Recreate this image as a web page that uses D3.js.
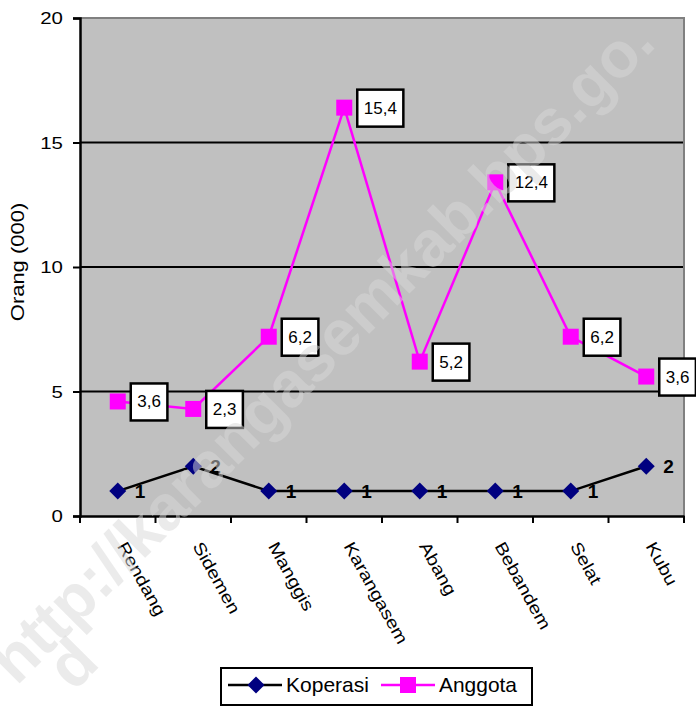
<!DOCTYPE html>
<html><head><meta charset="utf-8">
<script src="https://cdn.jsdelivr.net/npm/d3@7"></script>
<style>body{margin:0;background:#fff;}svg{display:block;font-family:"Liberation Sans",Arial,sans-serif;}</style>
</head><body>
<svg id="c" width="696" height="707"></svg>
<script>
const categories = ["Rendang","Sidemen","Manggis","Karangasem","Abang","Bebandem","Selat","Kubu"];
const koperasi = [1,2,1,1,1,1,1,2];
const anggota = [3.6,2.3,6.2,15.4,5.2,12.4,6.2,3.6];
const yTicks = [0,5,10,15,20];
const seriesNames = ["Koperasi","Anggota"];
const yTitle = "Orang (000)";
const watermark = "http://karangasemkab.bps.go.";
const watermark2 = "d";

const svg = d3.select("#c");
const L=80, R=684, T=18, B=516;
const x = d3.scaleBand().domain(categories).range([L,R]).padding(0);
const y = d3.scaleLinear().domain([0,20]).range([B,T]);
const cx = d => x(d)+x.bandwidth()/2;

function stretch(sel, f){
  sel.each(function(){
    const w=this.getComputedTextLength();
    d3.select(this).attr("textLength",w*f).attr("lengthAdjust","spacingAndGlyphs");
  });
}

// plot background
svg.append("rect").attr("x",L).attr("y",T).attr("width",R-L).attr("height",B-T).attr("fill","#c0c0c0");
// grid
svg.append("g").selectAll("line").data(yTicks.filter(v=>v>0&&v<20)).join("line")
  .attr("x1",L).attr("x2",R).attr("y1",d=>y(d)).attr("y2",d=>y(d))
  .attr("stroke","#000").attr("stroke-width",2);
// top/right border
svg.append("path").attr("d",`M${L},${T}H${R}V${B}`).attr("fill","none").attr("stroke","#808080").attr("stroke-width",2);

// y axis
const ya = svg.append("g").attr("transform",`translate(${L},0)`)
  .call(d3.axisLeft(y).tickValues(yTicks).tickSize(7).tickFormat(""));
ya.select(".domain").attr("stroke","#000").attr("stroke-width",2.5);
ya.selectAll(".tick line").attr("stroke","#000").attr("stroke-width",2);
svg.append("g").selectAll("text").data(yTicks).join("text")
  .attr("x",63).attr("y",d=>y(d)+6).attr("text-anchor","end").attr("font-size",17)
  .text(d=>d).call(stretch,1.2);

// x axis
const xa = svg.append("g").attr("transform",`translate(0,${B})`)
  .call(d3.axisBottom(x).tickSize(0).tickFormat(""));
xa.select(".domain").attr("stroke","#000").attr("stroke-width",2.5);
const bounds = categories.map(c=>x(c)).concat([R]);
svg.append("g").selectAll("line").data(bounds).join("line")
  .attr("x1",d=>d).attr("x2",d=>d).attr("y1",B).attr("y2",B+7)
  .attr("stroke","#000").attr("stroke-width",2);
svg.append("g").selectAll("text").data(categories).join("text")
  .attr("transform",d=>`translate(${cx(d)-1},${B+30}) rotate(61)`)
  .attr("font-size",17).attr("fill","#000").text(d=>d).call(stretch,1.18);

// y title
svg.append("text").attr("transform",`translate(24,262) rotate(-90)`)
  .attr("text-anchor","middle").attr("font-size",18).text(yTitle).call(stretch,1.22);

// stacked values (Anggota is drawn stacked on Koperasi)
const stacked = anggota.map((v,i)=>v+koperasi[i]);

const line = d3.line().x((d,i)=>cx(categories[i])).y(d=>y(d));
svg.append("path").datum(koperasi).attr("d",line).attr("fill","none").attr("stroke","#000").attr("stroke-width",2.5);
svg.append("path").datum(stacked).attr("d",line).attr("fill","none").attr("stroke","#ff00ff").attr("stroke-width",2.5);

const diamond = "M0,-8.5L8.5,0L0,8.5L-8.5,0Z";
svg.append("g").selectAll("path").data(koperasi).join("path")
  .attr("d",diamond).attr("transform",(d,i)=>`translate(${cx(categories[i])},${y(d)})`).attr("fill","#000080");
svg.append("g").selectAll("rect").data(stacked).join("rect")
  .attr("x",(d,i)=>cx(categories[i])-8).attr("y",d=>y(d)-8).attr("width",16).attr("height",16).attr("fill","#ff00ff");

// Koperasi labels
svg.append("g").selectAll("text").data(koperasi).join("text")
  .attr("x",(d,i)=>cx(categories[i])+17).attr("y",(d,i)=>y(d)+7)
  .attr("font-size",19).attr("font-weight","bold").text(d=>d);

// Anggota labels
const lg = svg.append("g").selectAll("g").data(anggota).join("g")
  .attr("transform",(d,i)=>`translate(${cx(categories[i])+13},${y(stacked[i])})`);
lg.each(function(d){
  const g=d3.select(this);
  const t=g.append("text").attr("x",0).attr("y",6).attr("font-size",17).text(String(d).replace(".",","));
  const w=t.node().getComputedTextLength();
  t.attr("x",6.5);
  g.insert("rect","text").attr("x",0).attr("y",-18).attr("width",w+13).attr("height",37)
    .attr("fill","#fff").attr("stroke","#000").attr("stroke-width",2.5);
});

// legend
svg.append("rect").attr("x",221).attr("y",668).attr("width",311).attr("height",37)
  .attr("fill","#fff").attr("stroke","#000").attr("stroke-width",2);
const legY=685;
svg.append("line").attr("x1",228).attr("x2",282).attr("y1",legY).attr("y2",legY).attr("stroke","#000").attr("stroke-width",2.5);
svg.append("path").attr("d",diamond).attr("transform",`translate(256,${legY})`).attr("fill","#000080");
svg.append("text").attr("x",286).attr("y",692).attr("font-size",21).text(seriesNames[0])
  .attr("textLength",83).attr("lengthAdjust","spacingAndGlyphs");
svg.append("line").attr("x1",381).attr("x2",435).attr("y1",legY).attr("y2",legY).attr("stroke","#ff00ff").attr("stroke-width",2.5);
svg.append("rect").attr("x",400).attr("y",legY-8).attr("width",16).attr("height",16).attr("fill","#ff00ff");
svg.append("text").attr("x",439).attr("y",692).attr("font-size",21).text(seriesNames[1])
  .attr("textLength",78).attr("lengthAdjust","spacingAndGlyphs");

// watermark
svg.append("text").attr("transform","translate(337,366) rotate(-45)").attr("text-anchor","middle")
  .attr("font-size",64).attr("font-weight","bold").attr("fill","#d8d8d8").attr("opacity",0.5).text(watermark);
svg.append("text").attr("transform","translate(72,663) rotate(-45)").attr("text-anchor","middle")
  .attr("dy",22).attr("font-size",64).attr("font-weight","bold").attr("fill","#d8d8d8").attr("opacity",0.5).text(watermark2);
</script>
</body></html>
